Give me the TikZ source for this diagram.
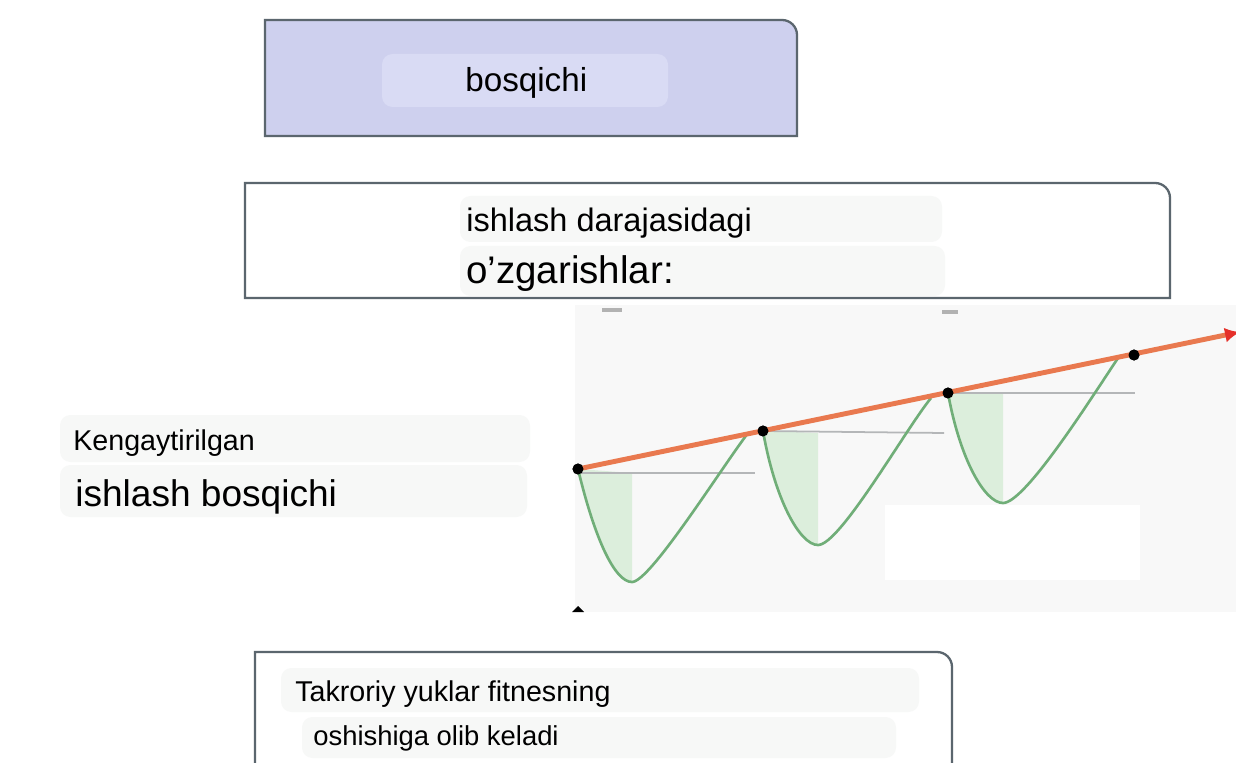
\documentclass[tikz,border=0pt]{standalone}
\usepackage{fontspec}
\setmainfont{Liberation Sans}
\usepackage{tikz}
\usetikzlibrary{arrows.meta}
\definecolor{mylav1}{HTML}{CED0EE}
\definecolor{mylav2}{HTML}{D9DBF4}
\definecolor{myedge}{HTML}{5B666E}
\definecolor{mygri1}{HTML}{F7F8F7}
\definecolor{mygri2}{HTML}{B4B6B8}
\definecolor{mygri3}{HTML}{F8F8F8}
\definecolor{myora1}{HTML}{E9794F}
\definecolor{myred1}{HTML}{E5302A}
\definecolor{mygrn1}{HTML}{70AE78}
\definecolor{mygrn2}{HTML}{DCEEDC}
\tikzstyle{panel} = [draw=myedge, line width=1.3pt]
\tikzstyle{hilite} = [rounded corners=6pt]
\tikzstyle{lbl} = [inner sep=0pt, anchor=base west, text=black]
\tikzstyle{wave} = [draw=mygrn1, line width=1.5pt]
\tikzstyle{level} = [draw=mygri2, line width=1pt]
\tikzstyle{dot} = [circle, fill=black, inner sep=0pt, minimum size=0.22cm]
\tikzstyle{trend} = [line width=2.8pt, myora1, -{Latex[color=myred1,length=0.3cm,width=0.3cm]}]

\begin{document}
\begin{tikzpicture}[x=0.02cm,y=-0.02cm]
	\useasboundingbox[fill=white] (0,0) rectangle (1236,763);
	\fill[mylav1] (265,136) -- (265,20) -- (782,20) arc[start angle=90, end angle=0, radius=0.3cm] -- (797,136) -- cycle;
	\draw[panel] (265,136) -- (265,20) -- (782,20) arc[start angle=90, end angle=0, radius=0.3cm] -- (797,136) -- cycle;
	\fill[mylav2, hilite] (382,54) rectangle (668,107);
	\draw[panel, fill=white] (245,298) -- (245,183) -- (1155,183) arc[start angle=90, end angle=0, radius=0.3cm] -- (1170,298) -- cycle;
	\fill[mygri1, hilite] (460,196) rectangle (942,242);
	\fill[mygri1, hilite] (460,246) rectangle (945,296);
	\fill[mygri1, hilite] (60,415) rectangle (530,462);
	\fill[mygri1, hilite] (60,465) rectangle (527,517);
	\draw[panel] (255,775) -- (255,652) -- (937,652) arc[start angle=90, end angle=0, radius=0.3cm] -- (952,775);
	\fill[mygri1, hilite] (281,668) rectangle (919,712);
	\fill[mygri1, hilite] (302,717) rectangle (896,758);
	\node (stage) [lbl, font=\fontsize{18.9pt}{22pt}\selectfont] at (465,92) {bosqichi};
	\node (chg1) [lbl, font=\fontsize{18.5pt}{22pt}\selectfont] at (466,232) {ishlash darajasidagi};
	\node (chg2) [lbl, font=\fontsize{21.9pt}{26pt}\selectfont] at (466,284) {o'zgarishlar:};
	\node (ext1) [lbl, font=\fontsize{16.3pt}{20pt}\selectfont] at (73,450) {Kengaytirilgan};
	\node (ext2) [lbl, font=\fontsize{21.1pt}{25pt}\selectfont] at (75,506) {ishlash bosqichi};
	\node (rep1) [lbl, font=\fontsize{16.3pt}{20pt}\selectfont] at (295,701) {Takroriy yuklar fitnesning};
	\node (rep2) [lbl, font=\fontsize{15.6pt}{19pt}\selectfont] at (313,745) {oshishiga olib keladi};
	\fill[mygri3] (575,305) rectangle (1236,612);
	\fill[white] (885,505) rectangle (1140,580);
	\draw[gray!60, line width=2pt] (602,310) -- (622,310);
	\draw[gray!60, line width=2pt] (942,312) -- (958,312);
	\fill[black] (572,612) -- (584,612) -- (578,606) -- cycle;
	\node (d1) [dot] at (578,469) {};
	\node (d2) [dot] at (763,431) {};
	\node (d3) [dot] at (948,393) {};
	\node (d4) [dot] at (1134,355) {};
	\coordinate (tip) at (1240,332);
	\fill[mygrn2] (d1.center) .. controls (595,540) and (615,582) .. (632,582) -- (632,473) -- cycle;
	\fill[mygrn2] (d2.center) .. controls (775,500) and (800,545) .. (818,545) -- (818,433) -- cycle;
	\fill[mygrn2] (d3.center) .. controls (960,460) and (985,503) .. (1003,503) -- (1003,394) -- cycle;
	\draw[level] (d1.center) ++(0,4) -- (755,473);
	\draw[level] (d2.center) -- (944,433);
	\draw[level] (d3.center) -- (1135,393);
	\draw[wave] (d1.center) .. controls (595,540) and (615,582) .. (632,582) .. controls (650,582) and (720,470) .. (748,433);
	\draw[wave] (d2.center) .. controls (775,500) and (800,545) .. (818,545) .. controls (840,545) and (905,430) .. (931,398);
	\draw[wave] (d3.center) .. controls (960,460) and (985,503) .. (1003,503) .. controls (1025,503) and (1090,400) .. (1118,358);
	\draw[trend] (d1.center) -- (tip);
	\node[dot] at (d1) {};
	\node[dot] at (d2) {};
	\node[dot] at (d3) {};
	\node[dot] at (d4) {};
\end{tikzpicture}
\end{document}
